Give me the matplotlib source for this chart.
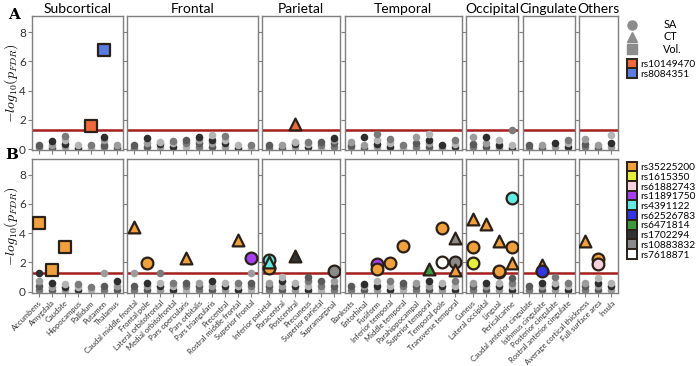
import numpy as np
import matplotlib.pyplot as plt
from matplotlib.lines import Line2D

plt.rcParams['font.family'] = ['Lato', 'DejaVu Sans']
plt.rcParams['mathtext.fontset'] = 'cm'

groups = ['Subcortical', 'Frontal', 'Parietal', 'Temporal', 'Occipital', 'Cingulate', 'Others']
subcortical = ['Accumbens', 'Amygdala', 'Caudate', 'Hippocampus', 'Pallidum', 'Putamen', 'Thalamus']
frontal = ['Caudal middle frontal', 'Frontal pole', 'Lateral orbitofrontal', 'Medial orbitofrontal',
           'Pars opercularis', 'Pars orbitalis', 'Pars triangularis', 'Precentral',
           'Rostral middle frontal', 'Superior frontal']
parietal = ['Inferior parietal', 'Paracentral', 'Postcentral', 'Precuneus', 'Superior parietal',
            'Supramarginal']
temporal = ['Bankssts', 'Entorhinal', 'Fusiform', 'Inferior temporal', 'Middle temporal',
            'Parahippocampal', 'Superior temporal', 'Temporal pole', 'Transverse temporal']
occipital = ['Cuneus', 'Lateral occipital', 'Lingual', 'Pericalcarine']
cingulate = ['Caudal anterior cingulate', 'Isthmus cingulate', 'Posterior cingulate',
             'Rostral anterior cingulate']
others = ['Average cortical thickness', 'Full surface area', 'Insula']
group_regions = [subcortical, frontal, parietal, temporal, occipital, cingulate, others]

# non significant results (-log10 p), one list per region, in region order
bg_a = [
    [0.12, 0.28], [0.1, 0.3, 0.55], [0.12, 0.35, 0.6, 0.92], [0.1, 0.28], [0.1, 0.3],
    [0.12, 0.3, 0.65, 0.8], [0.1, 0.25],
    [0.1, 0.3], [0.15, 0.4, 0.78], [0.15, 0.35, 0.5], [0.15, 0.4, 0.55], [0.15, 0.4, 0.6],
    [0.15, 0.4, 0.6, 0.85], [0.15, 0.4, 0.65, 0.95], [0.15, 0.4, 0.6, 0.9], [0.1, 0.3], [0.1, 0.3],
    [0.1, 0.3], [0.1, 0.3], [0.15, 0.35, 0.5], [0.15, 0.35, 0.5], [0.1, 0.3, 0.45],
    [0.15, 0.4, 0.6, 0.75],
    [0.15, 0.3, 0.5], [0.1, 0.3, 0.8], [0.15, 0.35, 0.6, 1.0], [0.15, 0.4, 0.7], [0.1, 0.3],
    [0.15, 0.4, 0.8], [0.15, 0.4, 0.65, 1.0], [0.1, 0.3], [0.15, 0.35, 0.6],
    [0.15, 0.35, 0.8], [0.15, 0.4, 0.85], [0.1, 0.3, 0.6], [0.1, 0.25, 1.3],
    [0.1, 0.25], [0.1, 0.25], [0.15, 0.4], [0.15, 0.4, 0.6],
    [0.15, 0.35, 0.7], [0.1, 0.3], [0.15, 0.4, 0.95],
]
bg_b = [
    [0.1, 0.35, 0.7, 1.24], [0.1, 0.3, 0.6], [0.1, 0.3, 0.5], [0.1, 0.3, 0.5], [0.1, 0.3],
    [0.1, 0.35, 1.24], [0.1, 0.35, 0.7],
    [0.1, 0.35, 1.24], [0.1, 0.35, 0.6], [0.1, 0.35, 0.6, 1.24], [0.1, 0.35, 0.6],
    [0.1, 0.35, 0.6], [0.1, 0.35, 0.6], [0.1, 0.35, 0.7], [0.1, 0.35, 0.6], [0.1, 0.35, 0.6],
    [0.1, 0.35, 0.6, 1.24],
    [0.1, 0.35, 0.6], [0.1, 0.35, 0.7, 1.0], [0.1, 0.35, 0.6], [0.1, 0.35, 0.7, 1.0],
    [0.1, 0.35, 0.7], [0.1, 0.35, 0.7],
    [0.1, 0.35], [0.1, 0.35, 0.5], [0.1, 0.35, 0.7], [0.1, 0.35, 0.7], [0.1, 0.35, 0.6],
    [0.1, 0.35, 0.6], [0.1, 0.35, 0.7], [0.1, 0.35, 0.6], [0.1, 0.35, 0.7],
    [0.1, 0.35, 0.6], [0.1, 0.35, 0.6], [0.1, 0.35, 0.6], [0.1, 0.35, 0.6, 0.95],
    [0.1, 0.35], [0.1, 0.35, 0.6], [0.1, 0.35, 0.6, 1.0], [0.1, 0.35, 0.6],
    [0.1, 0.35, 0.6], [0.1, 0.35, 0.6, 0.9], [0.1, 0.35, 0.6],
]

# significant hits
a_snp = ['rs10149470', 'rs8084351', 'rs10149470']
a_measure = ['Vol.', 'Vol.', 'CT']
a_region = ['Pallidum', 'Putamen', 'Postcentral']
a_value = [1.6, 6.77, 1.72]

b_snp = ['rs35225200', 'rs35225200', 'rs35225200',
         'rs35225200', 'rs35225200', 'rs35225200', 'rs35225200', 'rs11891750',
         'rs35225200', 'rs4391122', 'rs4391122', 'rs1702294', 'rs10883832',
         'rs11891750', 'rs35225200', 'rs35225200', 'rs35225200', 'rs6471814', 'rs35225200',
         'rs7618871', 'rs10883832', 'rs10883832', 'rs35225200',
         'rs35225200', 'rs35225200', 'rs1615350', 'rs35225200', 'rs35225200', 'rs10883832',
         'rs35225200', 'rs4391122', 'rs35225200', 'rs35225200',
         'rs35225200', 'rs62526783',
         'rs35225200', 'rs35225200', 'rs61882743']
b_measure = ['Vol.', 'Vol.', 'Vol.',
             'CT', 'SA', 'CT', 'CT', 'SA',
             'SA', 'SA', 'CT', 'CT', 'SA',
             'SA', 'SA', 'SA', 'SA', 'CT', 'SA',
             'SA', 'CT', 'SA', 'CT',
             'CT', 'SA', 'SA', 'CT', 'CT', 'SA',
             'SA', 'SA', 'SA', 'CT',
             'CT', 'SA',
             'CT', 'SA', 'SA']
b_region = ['Accumbens', 'Amygdala', 'Caudate',
            'Caudal middle frontal', 'Frontal pole', 'Pars opercularis', 'Rostral middle frontal',
            'Superior frontal',
            'Inferior parietal', 'Inferior parietal', 'Inferior parietal', 'Postcentral',
            'Supramarginal',
            'Fusiform', 'Fusiform', 'Inferior temporal', 'Middle temporal', 'Superior temporal',
            'Temporal pole', 'Temporal pole', 'Transverse temporal', 'Transverse temporal',
            'Transverse temporal',
            'Cuneus', 'Cuneus', 'Cuneus', 'Lateral occipital', 'Lingual', 'Lingual',
            'Lingual', 'Pericalcarine', 'Pericalcarine', 'Pericalcarine',
            'Isthmus cingulate', 'Isthmus cingulate',
            'Average cortical thickness', 'Full surface area', 'Full surface area']
b_value = [4.67, 1.5, 3.04,
           4.44, 1.93, 2.27, 3.56, 2.27,
           1.64, 2.14, 2.0, 2.44, 1.41,
           1.9, 1.55, 1.95, 3.11, 1.55, 4.33,
           2.0, 3.67, 2.0, 1.45,
           4.93, 3.07, 1.96, 4.62, 3.44, 1.35,
           1.42, 6.38, 3.07, 1.96,
           1.82, 1.4,
           3.44, 2.22, 1.9]

snps_a = ['rs10149470', 'rs8084351']
snps_b = ['rs35225200', 'rs1615350', 'rs61882743', 'rs11891750', 'rs4391122', 'rs62526783',
          'rs6471814', 'rs1702294', 'rs10883832', 'rs7618871']
snp_colors = {
    'rs10149470': '#ee6a3c', 'rs8084351': '#5a7be0',
    'rs35225200': '#f0a03c', 'rs1615350': '#e6f03c', 'rs61882743': '#f6d2dc',
    'rs11891750': '#a53ff0', 'rs4391122': '#62ece4', 'rs62526783': '#3434e6',
    'rs6471814': '#3c9a3c', 'rs1702294': '#333333', 'rs10883832': '#8a8a8a',
    'rs7618871': '#ffffff',
}
markers = {'SA': 'o', 'CT': '^', 'Vol.': 's'}
grays = ['#7a7a7a', '#5a5a5a', '#9c9c9c', '#2e2e2e', '#b4b4b4']
edge = '#2a2018'
thr = -np.log10(0.05)

fig = plt.figure(figsize=(7, 3.66), dpi=100)
gs = fig.add_gridspec(2, 7, width_ratios=[len(r) for r in group_regions],
                      left=32 / 700, right=618 / 700, top=1 - 16 / 366, bottom=1 - 293 / 366,
                      hspace=0.06, wspace=0.055)

panels = [(bg_a, a_snp, a_measure, a_region, a_value),
          (bg_b, b_snp, b_measure, b_region, b_value)]

for row, (bg, snp, meas, reg, val) in enumerate(panels):
    k = 0
    for col, regs in enumerate(group_regions):
        ax = fig.add_subplot(gs[row, col])
        ax.axhline(thr, color='#a51e1e', lw=1.8, zorder=1)
        for i, name in enumerate(regs):
            vals = bg[k]
            k += 1
            for j, v in enumerate(vals):
                ax.scatter(i, v, s=30, color=grays[(i + j) % len(grays)], lw=0, zorder=2)
        for s_, m_, r_, v_ in zip(snp, meas, reg, val):
            if r_ in regs:
                ax.scatter(regs.index(r_), v_, s=72, marker=markers[m_], facecolor=snp_colors[s_],
                           edgecolor=edge, linewidth=1.6, zorder=3)
        ax.set_xlim(-0.5, len(regs) - 0.5)
        ax.set_ylim(-0.1, 9.1)
        ax.set_yticks([0, 2, 4, 6, 8])
        ax.set_xticks(range(len(regs)))
        for sp in ax.spines.values():
            sp.set_color('#7f7f7f')
            sp.set_linewidth(1.0)
        ax.tick_params(direction='out', length=3, width=0.8, color='#7f7f7f',
                       labelsize=8.5, labelcolor='#333333', pad=1.5)
        if col > 0:
            ax.set_yticklabels([])
        else:
            ax.set_ylabel(r'$-log_{10}(p_{FDR})$', fontsize=10)
            ax.yaxis.set_label_coords(-0.13, 0.5)
        if row == 0:
            ax.set_xticklabels([])
            ax.set_title(groups[col], fontsize=10, pad=2)
        else:
            ax.set_xticklabels(regs, rotation=45, ha='right', rotation_mode='anchor', fontsize=5.5)

fig.text(14 / 700, 1 - 15 / 366, 'A', fontsize=11, fontweight='bold', family='DejaVu Serif',
         ha='center', va='center')
fig.text(12 / 700, 1 - 155 / 366, 'B', fontsize=11, fontweight='bold', family='DejaVu Serif',
         ha='center', va='center')

shape_handles = [Line2D([], [], ls='', marker=markers[m], color='#8c8c8c', markersize=6.5)
                 for m in ['SA', 'CT', 'Vol.']]
fig.legend(shape_handles, ['SA', 'CT', 'Vol.'], loc='upper left',
           bbox_to_anchor=(621 / 700, 1 - 14 / 366), frameon=False, fontsize=7.8,
           handletextpad=2.4, labelspacing=0.1, borderpad=0, handlelength=1.0)


def snp_handles(names):
    return [Line2D([], [], ls='', marker='s', markerfacecolor=snp_colors[n],
                   markeredgecolor=edge, markeredgewidth=1.4, markersize=7.5) for n in names]


fig.legend(snp_handles(snps_a), snps_a, loc='upper left', bbox_to_anchor=(622 / 700, 1 - 55 / 366),
           frameon=False, fontsize=7.3, handletextpad=0.3, labelspacing=0.06, borderpad=0,
           handlelength=1.0)
fig.legend(snp_handles(snps_b), snps_b, loc='upper left', bbox_to_anchor=(622 / 700, 1 - 158 / 366),
           frameon=False, fontsize=7.3, handletextpad=0.3, labelspacing=0.06, borderpad=0,
           handlelength=1.0)

fig.savefig('out.png', dpi=100)
